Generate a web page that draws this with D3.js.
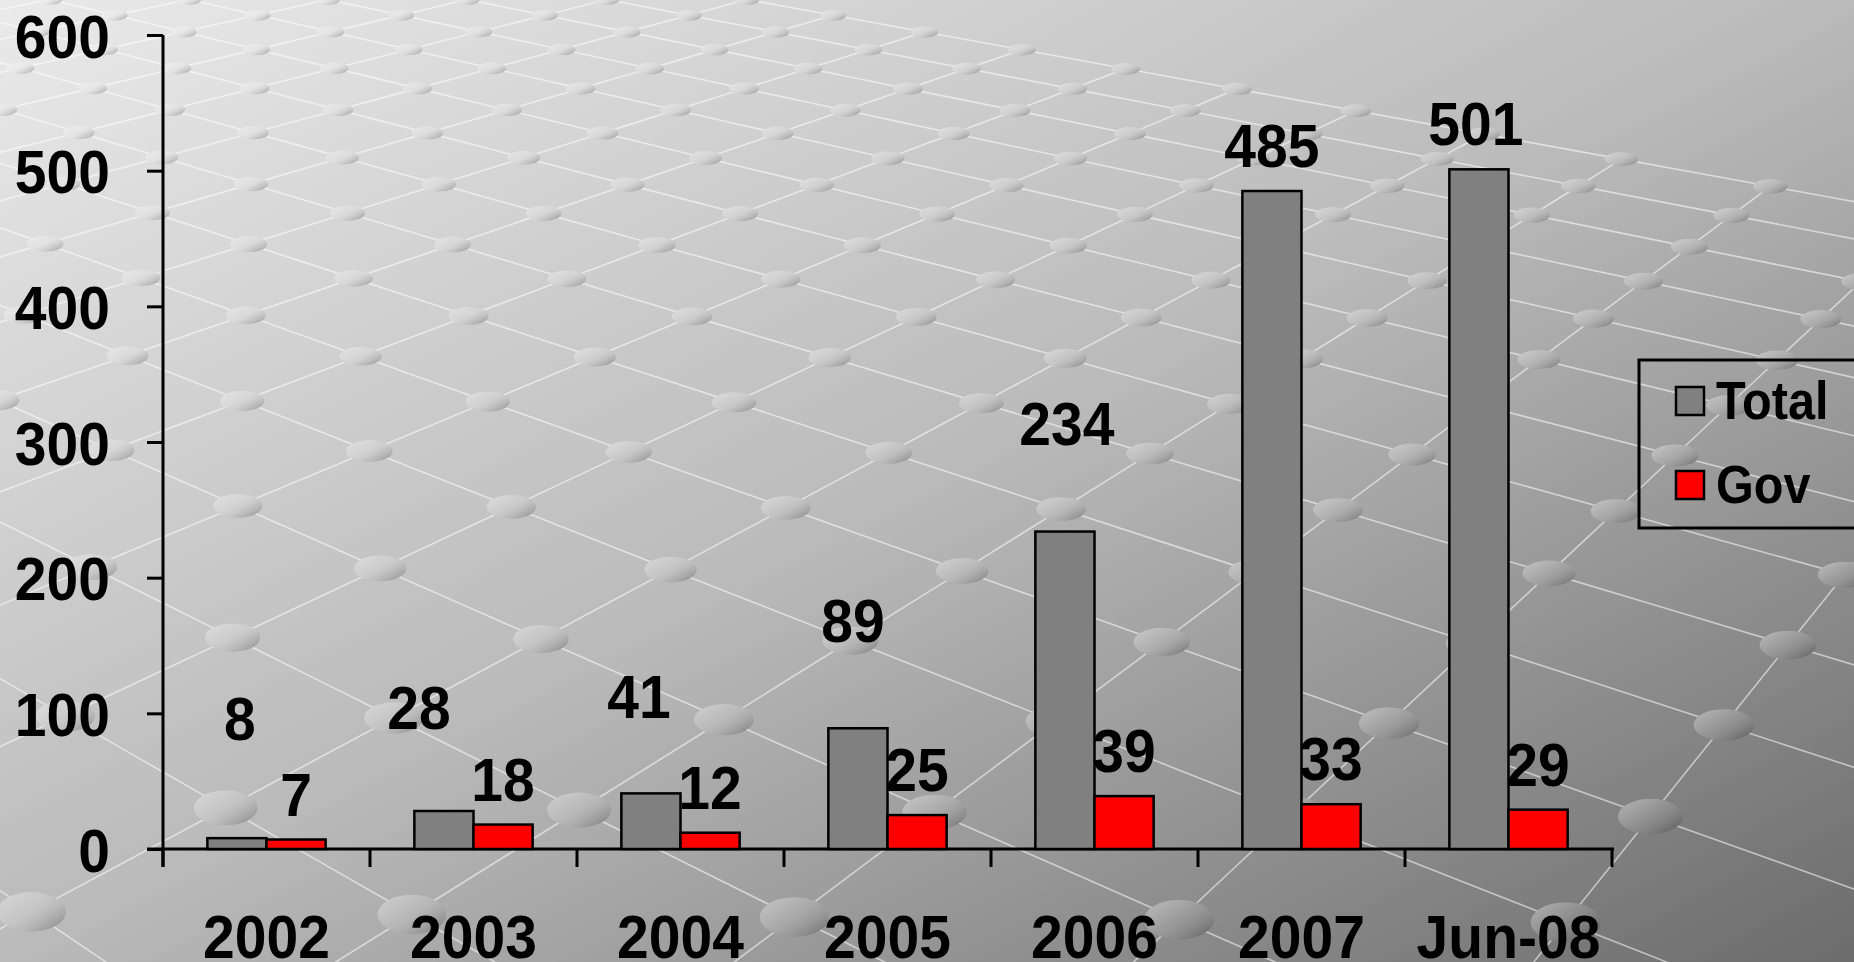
<!DOCTYPE html>
<html>
<head>
<meta charset="utf-8">
<script src="https://cdn.jsdelivr.net/npm/d3@7/dist/d3.min.js"></script>
<style>
  html, body { margin: 0; padding: 0; overflow: hidden; background: #bdbdbd; }
  svg { display: block; }
  text { font-family: 'Liberation Sans', Arial, Helvetica, sans-serif; font-weight: bold; fill: #000; }
</style>
</head>
<body>
<svg id="chart" width="1854" height="962"></svg>
<script>
// chart data
const categories = ['2002', '2003', '2004', '2005', '2006', '2007', 'Jun-08']
const seriesNames = ['Total', 'Gov']
const totalValues = [8, 28, 41, 89, 234, 485, 501]
const govValues = [7, 18, 12, 25, 39, 33, 29]
const yTicks = [0, 100, 200, 300, 400, 500, 600]

// the Total labels were dragged by hand in the original slide: [dx, extra lift] in px
const totalLabelNudge = [[3, 74], [-25, 58], [-12, 51], [-5, 62], [2, 63], [0, 0], [-3, 0]]

const seriesColor = { Total: '#808080', Gov: '#ff0000' }
const seriesValues = { Total: totalValues, Gov: govValues }

const W = 1854, H = 962
const svg = d3.select('#chart')
const defs = svg.append('defs')

// ---- slide background: diagonal grey gradient + perspective lattice of beads ----
const bg = defs.append('linearGradient').attr('id', 'bgGrad')
  .attr('x1', 0).attr('y1', 0).attr('x2', 1).attr('y2', 1)
bg.append('stop').attr('offset', 0).attr('stop-color', '#eaeaea')
bg.append('stop').attr('offset', 0.5).attr('stop-color', '#bababa')
bg.append('stop').attr('offset', 1).attr('stop-color', '#6c6c6c')

// beads: lit from the top-left, shaded towards the bottom-right
const dot = defs.append('linearGradient').attr('id', 'dotGrad')
  .attr('x1', 0.1).attr('y1', 0.15).attr('x2', 0.9).attr('y2', 0.85)
dot.append('stop').attr('offset', 0).attr('stop-color', '#ffffff').attr('stop-opacity', 0.35)
dot.append('stop').attr('offset', 0.5).attr('stop-color', '#ffffff').attr('stop-opacity', 0.12)
dot.append('stop').attr('offset', 1).attr('stop-color', '#000000').attr('stop-opacity', 0.2)

defs.append('clipPath').attr('id', 'slideClip')
  .append('rect').attr('width', W).attr('height', H)

svg.append('rect').attr('width', W).attr('height', H).attr('fill', 'url(#bgGrad)')

// lattice points, (u, v) grid index -> screen px
const latticeRefs = [
  [[0, 0], [538, 639]], [[-1, -1], [226, 633]], [[1, 1], [844, 644]],
  [[0, 2], [941, 812]], [[-2, 0], [224, 808]], [[-1, 2], [804, 914]],
  [[-2, 1], [410, 908]], [[0, -3], [118, 457]], [[3, 0], [886, 452]],
  [[4, 0], [979, 405]], [[5, 0], [1066, 358]], [[6, -6], [429, 127]],
  [[4, -4], [455, 245]], [[3, -4], [352, 283]], [[2, -3], [357, 358]],
  [[7, 2], [1544, 359]], [[12, 2], [1768, 187]]
]

function fitHomography(pairs) {
  const N = Array.from({ length: 8 }, () => new Array(9).fill(0))
  for (const [[u, v], [x, y]] of pairs) {
    const rows = [[u, v, 1, 0, 0, 0, -u * x, -v * x, x], [0, 0, 0, u, v, 1, -u * y, -v * y, y]]
    for (const r of rows) for (let i = 0; i < 8; i++) for (let j = 0; j < 9; j++) N[i][j] += r[i] * r[j]
  }
  for (let i = 0; i < 8; i++) {
    let p = i
    for (let k = i + 1; k < 8; k++) if (Math.abs(N[k][i]) > Math.abs(N[p][i])) p = k
    const tmp = N[i]; N[i] = N[p]; N[p] = tmp
    for (let k = 0; k < 8; k++) {
      if (k === i) continue
      const f = N[k][i] / N[i][i]
      for (let j = i; j < 9; j++) N[k][j] -= f * N[i][j]
    }
  }
  const h = N.map((r, i) => r[8] / r[i])
  return (u, v) => {
    const w = h[6] * u + h[7] * v + 1
    return [(h[0] * u + h[1] * v + h[2]) / w, (h[3] * u + h[4] * v + h[5]) / w, w]
  }
}

const proj = fitHomography(latticeRefs)
const U0 = -16, U1 = 12, V0 = -24, V1 = 14
const lattice = svg.append('g').attr('clip-path', 'url(#slideClip)')
const lineGen = d3.line()

function latticeLine(pts) {
  const ok = pts.map(([u, v]) => proj(u, v)).filter(p => p[2] > 0.05)
  if (ok.length < 2) return
  lattice.append('path')
    .attr('d', lineGen(ok.map(p => [p[0], p[1]])))
    .attr('fill', 'none').attr('stroke', '#ffffff').attr('stroke-opacity', 0.55).attr('stroke-width', 1.6)
}
for (let v = V0; v <= V1; v++) latticeLine(d3.range(U0, U1 + 0.01, 0.5).map(u => [u, v]))
for (let u = U0; u <= U1; u++) latticeLine(d3.range(V0, V1 + 0.01, 0.5).map(v => [u, v]))

const beads = []
for (let u = U0; u <= U1; u++) {
  for (let v = V0; v <= V1; v++) {
    const p = proj(u, v)
    if (p[2] <= 0.05 || p[0] < -80 || p[0] > W + 80 || p[1] < -60 || p[1] > H + 60) continue
    const q = proj(u + 1, v + 1), r = proj(u + 1, v)
    const rx = 0.09 * Math.abs(q[0] - p[0])
    const ry = 3 + 0.16 * Math.abs(p[1] - r[1])
    beads.push({ x: p[0], y: p[1], rx, ry })
  }
}
// solid base so the lattice lines do not show through the beads
lattice.selectAll('ellipse.base').data(beads).join('ellipse')
  .attr('class', 'base')
  .attr('cx', d => d.x).attr('cy', d => d.y)
  .attr('rx', d => d.rx).attr('ry', d => d.ry)
  .attr('fill', 'url(#bgGrad)')
  .attr('fill', d => {
    const t = (d.x / W + d.y / H) / 2
    return t < 0.5 ? d3.interpolateRgb('#eaeaea', '#bababa')(t * 2) : d3.interpolateRgb('#bababa', '#6c6c6c')((t - 0.5) * 2)
  })
lattice.selectAll('ellipse.bead').data(beads).join('ellipse')
  .attr('class', 'bead')
  .attr('cx', d => d.x).attr('cy', d => d.y)
  .attr('rx', d => d.rx).attr('ry', d => d.ry)
  .attr('fill', 'url(#dotGrad)')

// ---- chart ----
const plot = { left: 163, right: 1612, top: 35, bottom: 849 }
const x = d3.scaleBand().domain(categories).range([plot.left, plot.right]).paddingInner(0).paddingOuter(0)
const xs = d3.scaleBand().domain(seriesNames).range([0, x.bandwidth()]).paddingInner(0).paddingOuter(0.75)
const y = d3.scaleLinear().domain([0, 600]).range([plot.bottom, plot.top])

const FONT = 62, SQUEEZE = 0.92

// y axis
const gy = svg.append('g').attr('transform', `translate(${plot.left},0)`)
  .call(d3.axisLeft(y).tickValues(yTicks).tickSize(16).tickSizeOuter(0))
gy.select('.domain').attr('stroke', '#000').attr('stroke-width', 3)
  .attr('d', `M0,${plot.top}V${plot.bottom + 18}`)
gy.selectAll('.tick line').attr('stroke', '#000').attr('stroke-width', 3)
gy.selectAll('.tick text')
  .attr('font-size', FONT).attr('font-family', null).attr('fill', '#000')
  .attr('x', -53 / SQUEEZE).attr('dy', '0.36em')
  .attr('transform', `scale(${SQUEEZE},1)`)

// x axis: line, boundary ticks, centred category names
const gx = svg.append('g')
gx.append('line')
  .attr('x1', plot.left - 16).attr('x2', x.range()[1] + 2)
  .attr('y1', plot.bottom).attr('y2', plot.bottom)
  .attr('stroke', '#000').attr('stroke-width', 3)
const bounds = categories.map(c => x(c)).concat([x.range()[1]])
gx.selectAll('line.bound').data(bounds).join('line')
  .attr('class', 'bound')
  .attr('x1', d => d).attr('x2', d => d)
  .attr('y1', plot.bottom).attr('y2', plot.bottom + 18)
  .attr('stroke', '#000').attr('stroke-width', 3)
gx.selectAll('text.cat').data(categories).join('text')
  .attr('class', 'cat')
  .attr('text-anchor', 'middle')
  .attr('font-size', FONT)
  .attr('transform', d => `translate(${x(d) + x.bandwidth() / 2},${plot.bottom + 109}) scale(${SQUEEZE},1)`)
  .text(d => d)

// bars
const barData = []
categories.forEach((c, i) => {
  seriesNames.forEach(s => barData.push({ cat: c, i, series: s, value: seriesValues[s][i] }))
})
svg.append('g').selectAll('rect').data(barData).join('rect')
  .attr('x', d => x(d.cat) + xs(d.series))
  .attr('y', d => y(d.value))
  .attr('width', xs.bandwidth())
  .attr('height', d => y(0) - y(d.value))
  .attr('fill', d => seriesColor[d.series])
  .attr('stroke', '#000').attr('stroke-width', 2.5)

// data labels
svg.append('g').selectAll('text').data(barData).join('text')
  .attr('text-anchor', 'middle')
  .attr('font-size', FONT)
  .attr('transform', d => {
    const nudge = d.series === 'Total' ? totalLabelNudge[d.i] : [0, 0]
    const cx = x(d.cat) + xs(d.series) + xs.bandwidth() / 2 + nudge[0]
    const by = y(d.value) - 24 - nudge[1]
    return `translate(${cx},${by}) scale(${SQUEEZE},1)`
  })
  .text(d => d.value)

// legend (runs off the right edge of the slide)
const legend = svg.append('g')
legend.append('rect')
  .attr('x', 1639).attr('y', 360).attr('width', 400).attr('height', 168)
  .attr('fill', 'none').attr('stroke', '#000').attr('stroke-width', 3)
const items = legend.selectAll('g.item').data(seriesNames).join('g')
  .attr('class', 'item')
  .attr('transform', (d, i) => `translate(1676,${387 + i * 84})`)
items.append('rect')
  .attr('width', 28).attr('height', 28)
  .attr('fill', d => seriesColor[d])
  .attr('stroke', '#000').attr('stroke-width', 2.5)
items.append('text')
  .attr('font-size', 54)
  .attr('transform', `translate(40,32) scale(0.9,1)`)
  .text(d => d)
</script>
</body>
</html>
